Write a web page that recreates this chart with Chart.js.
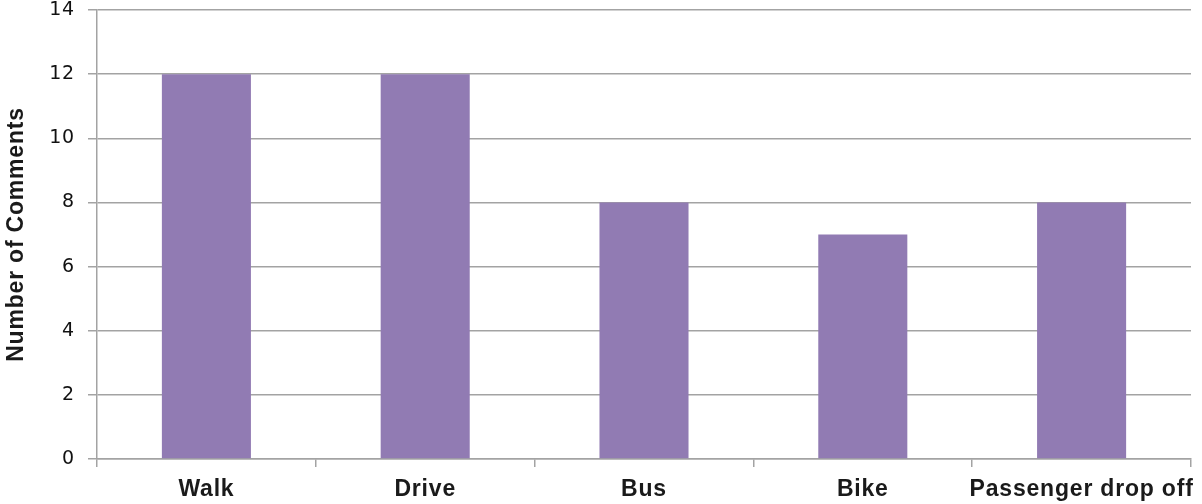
<!DOCTYPE html>
<html>
<head>
<meta charset="utf-8">
<script src="https://cdn.jsdelivr.net/npm/chart.js@4/dist/chart.umd.min.js"></script>
<style>
  html, body { margin: 0; padding: 0; background: #ffffff; }
  #wrap { width: 1202px; height: 504px; }
</style>
</head>
<body>
<div id="wrap"><canvas id="c" width="1202" height="504"></canvas></div>
<script>
const categories = ["Walk", "Drive", "Bus", "Bike", "Passenger drop off"];
const commentCounts = [12, 12, 8, 7, 8];
const yTickValues = [0, 2, 4, 6, 8, 10, 12, 14];
const yAxisTitle = "Number of Comments";

const SPACING = '0.8px';
const spacingPlugin = {
  id: 'spacing',
  beforeUpdate(chart) { chart.ctx.letterSpacing = SPACING; },
  beforeLayout(chart) { chart.ctx.letterSpacing = SPACING; },
  beforeDraw(chart) { chart.ctx.letterSpacing = SPACING; }
};

const gridGray = '#a3a3a3';

new Chart(document.getElementById('c'), {
  type: 'bar',
  data: {
    labels: categories,
    datasets: [{
      data: commentCounts,
      backgroundColor: '#917BB3',
      borderWidth: 0,
      barPercentage: 0.407,
      categoryPercentage: 1.0
    }]
  },
  options: {
    responsive: false,
    devicePixelRatio: 1,
    animation: false,
    layout: { padding: { top: 10, right: 11, left: 0, bottom: 0 } },
    plugins: {
      legend: { display: false },
      tooltip: { enabled: false }
    },
    scales: {
      x: {
        offset: true,
        grid: {
          display: true,
          offset: true,
          drawOnChartArea: false,
          drawTicks: true,
          tickLength: 8,
          color: gridGray,
          lineWidth: 1.5
        },
        border: { display: true, color: gridGray, width: 1.5 },
        ticks: {
          color: '#1a1a1a',
          padding: 9,
          maxRotation: 0,
          autoSkip: false,
          font: { family: '"Liberation Sans", Arial, sans-serif', size: 23, weight: 'bold' }
        },
        afterFit(scale) {
          scale.height = 45;
          scale.paddingLeft = 0;
          scale.paddingRight = 0;
        }
      },
      y: {
        min: 0,
        max: 14,
        afterBuildTicks(scale) { scale.ticks = yTickValues.map(v => ({ value: v })); },
        grid: {
          color: gridGray,
          lineWidth: 1.5,
          drawTicks: true,
          tickLength: 9
        },
        border: { display: true, color: gridGray, width: 1.5 },
        ticks: {
          color: '#111111',
          padding: 13,
          font: { family: '"DejaVu Sans", Verdana, sans-serif', size: 19 }
        },
        title: {
          display: true,
          text: yAxisTitle,
          color: '#1a1a1a',
          padding: { top: 3, bottom: 0 },
          font: { family: '"Liberation Sans", Arial, sans-serif', size: 23, weight: 'bold' }
        },
        afterFit(scale) {
          scale.width = 97;
          scale.paddingTop = 0;
          scale.paddingBottom = 0;
        }
      }
    }
  },
  plugins: [spacingPlugin]
});
</script>
</body>
</html>
